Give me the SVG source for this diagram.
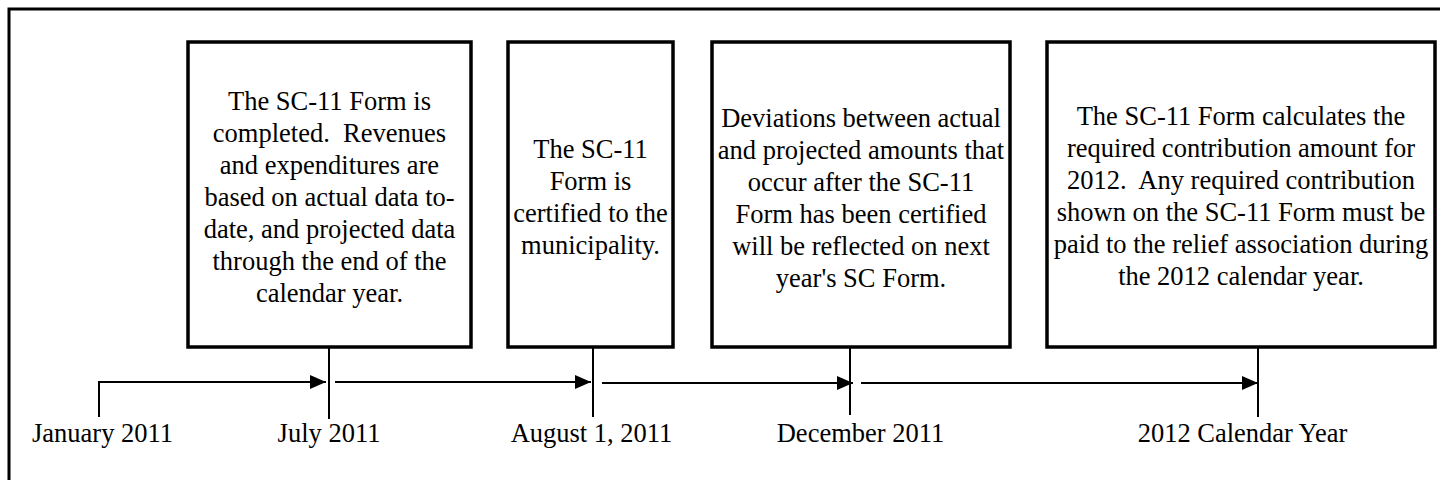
<svg xmlns="http://www.w3.org/2000/svg" width="1440" height="480" viewBox="0 0 1440 480">
<style>
.frame{fill:none;stroke:#000;stroke-width:3}
.box{fill:#fff;stroke:#000;stroke-width:3.5}
.t{font-family:"Liberation Serif","Times New Roman",serif;font-size:26.5px;fill:#000;text-anchor:middle}
.ln{fill:none;stroke:#000;stroke-width:2}
</style>
<defs>
<marker id="ah" markerWidth="16" markerHeight="14" refX="16" refY="7" orient="auto" markerUnits="userSpaceOnUse">
<path d="M0,0 L16,7 L0,14 Z" fill="#000"/>
</marker>
</defs>
<rect width="1440" height="480" fill="#fff"/>
<path class="frame" d="M9,480 V9 H1440"/>
<g id="box1">
<rect class="box" x="188" y="42" width="283" height="305"/>
<text class="t" x="329.5" y="110">The SC-11 Form is</text>
<text class="t" x="329.5" y="142">completed.&#160; Revenues</text>
<text class="t" x="329.5" y="174">and expenditures are</text>
<text class="t" x="329.5" y="206">based on actual data to-</text>
<text class="t" x="329.5" y="238">date, and projected data</text>
<text class="t" x="329.5" y="270">through the end of the</text>
<text class="t" x="329.5" y="302">calendar year.</text>
</g>
<g id="box2">
<rect class="box" x="508" y="42" width="165" height="305"/>
<text class="t" x="590.5" y="158">The SC-11</text>
<text class="t" x="590.5" y="190">Form is</text>
<text class="t" x="590.5" y="222">certified to the</text>
<text class="t" x="590.5" y="254">municipality.</text>
</g>
<g id="box3">
<rect class="box" x="712" y="42" width="298" height="305"/>
<text class="t" x="861" y="127">Deviations between actual</text>
<text class="t" x="861" y="159">and projected amounts that</text>
<text class="t" x="861" y="191">occur after the SC-11</text>
<text class="t" x="861" y="223">Form has been certified</text>
<text class="t" x="861" y="255">will be reflected on next</text>
<text class="t" x="861" y="287">year's SC Form.</text>
</g>
<g id="box4">
<rect class="box" x="1047" y="42" width="388" height="305"/>
<text class="t" x="1241" y="125">The SC-11 Form calculates the</text>
<text class="t" x="1241" y="157">required contribution amount for</text>
<text class="t" x="1241" y="189">2012.&#160; Any required contribution</text>
<text class="t" x="1241" y="221">shown on the SC-11 Form must be</text>
<text class="t" x="1241" y="253">paid to the relief association during</text>
<text class="t" x="1241" y="285">the 2012 calendar year.</text>
</g>
<g id="connectors">
<path class="ln" d="M99,417 V382 H326" marker-end="url(#ah)"/>
<line class="ln" x1="329" y1="348" x2="329" y2="419"/>
<line class="ln" x1="335" y1="382" x2="591" y2="382" marker-end="url(#ah)"/>
<line class="ln" x1="593" y1="348" x2="593" y2="417"/>
<line class="ln" x1="602" y1="383" x2="853" y2="383" marker-end="url(#ah)"/>
<line class="ln" x1="850" y1="348" x2="850" y2="415"/>
<line class="ln" x1="861" y1="383" x2="1258" y2="383" marker-end="url(#ah)"/>
<line class="ln" x1="1258" y1="348" x2="1258" y2="417"/>
</g>
<g id="labels">
<text class="t" x="102.5" y="442">January 2011</text>
<text class="t" x="329" y="442">July 2011</text>
<text class="t" x="591.5" y="442">August 1, 2011</text>
<text class="t" x="860.5" y="442">December 2011</text>
<text class="t" x="1242.5" y="442">2012 Calendar Year</text>
</g>
</svg>
